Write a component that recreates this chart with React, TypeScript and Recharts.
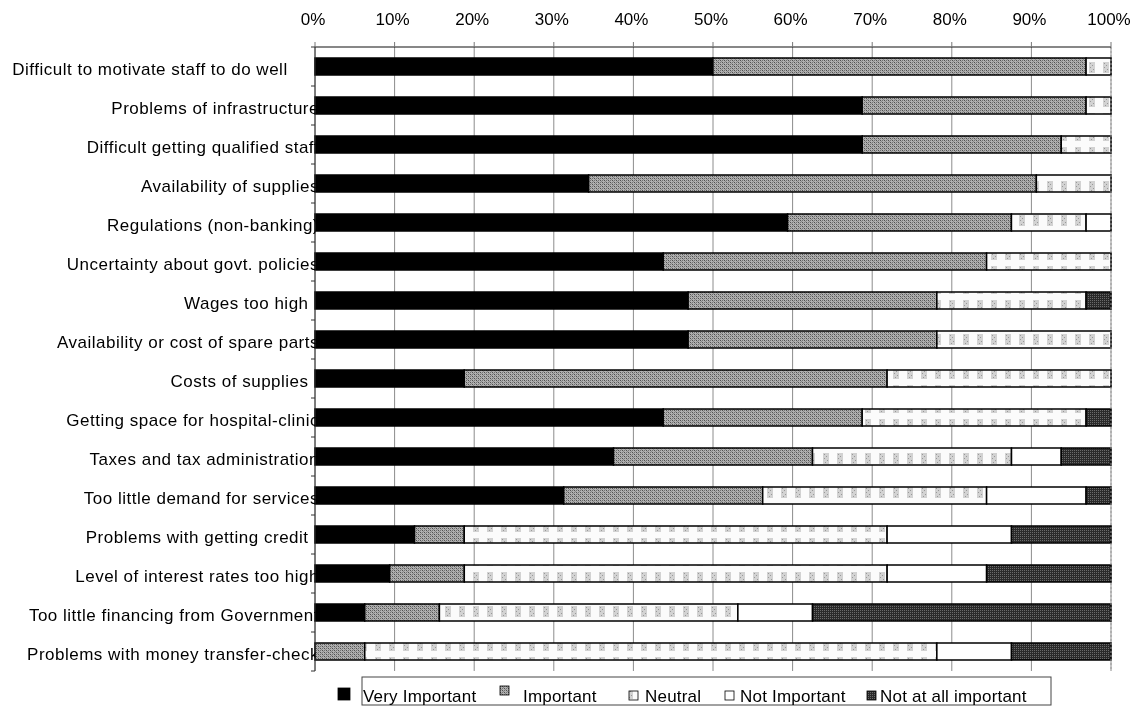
import React from "react";
import { BarChart, Bar, XAxis, YAxis, CartesianGrid, Legend, ReferenceLine } from "recharts";

const categories = [
  "Difficult to motivate staff to do well      ",
  "Problems of infrastructure",
  "Difficult getting qualified staff",
  "Availability of supplies",
  "Regulations (non-banking)",
  "Uncertainty about govt. policies",
  "Wages too high  ",
  "Availability or cost of spare parts",
  "Costs of supplies  ",
  "Getting space for hospital-clinic",
  "Taxes and tax administration",
  "Too little demand for services",
  "Problems with getting credit  ",
  "Level of interest rates too high",
  "Too little financing from Government",
  "Problems with money transfer-check",
];

const seriesNames = ["Very Important", "Important", "Neutral", "Not Important", "Not at all important"];

// percentages
const veryImportant = [50, 68.75, 68.75, 34.38, 59.38, 43.75, 46.88, 46.88, 18.75, 43.75, 37.5, 31.25, 12.5, 9.38, 6.25, 0];
const important = [46.88, 28.13, 25, 56.25, 28.13, 40.63, 31.25, 31.25, 53.13, 25, 25, 25, 6.25, 9.38, 9.38, 6.25];
const neutral = [3.13, 3.13, 6.25, 9.38, 9.38, 15.63, 18.75, 21.88, 28.13, 28.13, 25, 28.13, 53.13, 53.13, 37.5, 71.88];
const notImportant = [0, 0, 0, 0, 3.13, 0, 0, 0, 0, 0, 6.25, 12.5, 15.63, 12.5, 9.38, 9.38];
const notAtAll = [0, 0, 0, 0, 0, 0, 3.13, 0, 0, 3.13, 6.25, 3.13, 12.5, 15.63, 37.5, 12.5];

const xTicks = [0, 0.1, 0.2, 0.3, 0.4, 0.5, 0.6, 0.7, 0.8, 0.9, 1];

const keys = ["vi", "imp", "neu", "ni", "nai"];
const fills = ["#000000", "url(#pImp)", "url(#pNeu)", "#ffffff", "url(#pNai)"];

const data = categories.map((name, i) => ({
  name,
  vi: veryImportant[i],
  imp: important[i],
  neu: neutral[i],
  ni: notImportant[i],
  nai: notAtAll[i],
}));

const FONT = "'Liberation Sans', Arial, Helvetica, sans-serif";
const W = 1124;
const H = 699;
const MARGIN = { top: 0, right: 21, bottom: 36, left: 0 };
const XAXIS_H = 39;
const YAXIS_W = 307;
const BAND = (H - MARGIN.top - MARGIN.bottom - XAXIS_H) / categories.length;

const YTick = (props: any) => {
  const { x, y, payload, index } = props;
  const id = `yclip${index}`;
  const half = BAND / 2;
  return (
    <g>
      <clipPath id={id}>
        <rect x={0} y={y - half} width={x + 0.5} height={BAND} />
      </clipPath>
      <text
        x={x + 4}
        y={y + 8.5}
        textAnchor="end"
        fontSize={17}
        letterSpacing={0.5}
        fontFamily={FONT}
        fill="#000"
        clipPath={`url(#${id})`}
        style={{ whiteSpace: "pre" }}
      >
        {payload.value}
      </text>
      <line x1={x - 4} x2={x} y1={y - half} y2={y - half} stroke="#333" />
      {index === categories.length - 1 ? (
        <line x1={x - 4} x2={x} y1={y + half} y2={y + half} stroke="#333" />
      ) : null}
    </g>
  );
};

const XTick = (props: any) => {
  const { x, y, payload } = props;
  return (
    <text x={x - 2} y={y} textAnchor="middle" fontSize={17} fontFamily={FONT} fill="#000">
      {`${Math.round(payload.value * 100)}%`}
    </text>
  );
};

const legendItems = [
  { mx: 330, my: 20, ms: 12, tx: 355 },
  { mx: 492, my: 18, ms: 9, tx: 515 },
  { mx: 621, my: 23, ms: 9, tx: 637 },
  { mx: 717, my: 23, ms: 9, tx: 732 },
  { mx: 859, my: 23, ms: 9, tx: 872 },
];

const renderLegend = () => (
  <svg width={W} height={39} style={{ display: "block" }}>
    <rect x={354} y={9} width={689} height={28} fill="#fff" stroke="#444" strokeWidth={1} />
    {seriesNames.map((n, i) => {
      const it = legendItems[i];
      return (
        <g key={n}>
          <rect x={it.mx} y={it.my} width={it.ms} height={it.ms} fill={fills[i]} stroke="#000" strokeWidth={0.8} />
          <text x={it.tx} y={34} fontSize={17} letterSpacing={0.2} fontFamily={FONT} fill="#000">
            {n}
          </text>
        </g>
      );
    })}
  </svg>
);

export default function App() {
  return (
    <div style={{ position: "fixed", left: 8, top: 8, width: W, height: H }}>
      <svg width={0} height={0} style={{ position: "absolute" }}>
        <defs>
          <pattern id="pImp" patternUnits="userSpaceOnUse" width={4} height={4}>
            <rect width={4} height={4} fill="#b0b0b0" />
            <rect x={0} y={0} width={1} height={1} fill="#505050" />
            <rect x={2} y={2} width={1} height={1} fill="#505050" />
            <rect x={2} y={0} width={1} height={1} fill="#727272" />
            <rect x={0} y={2} width={1} height={1} fill="#727272" />
            <rect x={1} y={1} width={1} height={1} fill="#888" />
            <rect x={3} y={3} width={1} height={1} fill="#888" />
          </pattern>
          <pattern id="pNeu" patternUnits="userSpaceOnUse" width={14} height={17}>
            <rect width={14} height={17} fill="#fbfbfb" />
            <rect x={3} y={3} width={6} height={11} fill="#d2d2d2" />
            <rect x={4} y={4} width={1} height={1} fill="#999" />
            <rect x={6} y={6} width={1} height={1} fill="#999" />
            <rect x={4} y={8} width={1} height={1} fill="#999" />
            <rect x={7} y={10} width={1} height={1} fill="#999" />
            <rect x={5} y={12} width={1} height={1} fill="#999" />
          </pattern>
          <pattern id="pNai" patternUnits="userSpaceOnUse" width={2} height={2}>
            <rect width={2} height={2} fill="#2a2a2a" />
            <rect x={0} y={0} width={1} height={1} fill="#6a6a6a" />
          </pattern>
        </defs>
      </svg>
      <BarChart
        width={W}
        height={H}
        data={data}
        layout="vertical"
        stackOffset="expand"
        margin={MARGIN}
        barSize={17}
      >
        <CartesianGrid vertical={true} horizontal={false} stroke="#8c8c8c" strokeWidth={1} />
        <XAxis
          type="number"
          orientation="top"
          domain={[0, 1]}
          ticks={xTicks}
          height={XAXIS_H}
          tick={<XTick />}
          axisLine={{ stroke: "#111", strokeWidth: 1.2 }}
          tickLine={{ stroke: "#777" }}
          tickSize={5}
          tickMargin={17}
          interval={0}
        />
        <YAxis
          type="category"
          dataKey="name"
          width={YAXIS_W}
          axisLine={{ stroke: "#333", strokeWidth: 1 }}
          tickLine={false}
          tickSize={0}
          tickMargin={0}
          interval={0}
          tick={<YTick />}
        />
        <ReferenceLine x={1} stroke="#999" strokeDasharray="2 2" />
        {keys.map((k, i) => (
          <Bar
            key={k}
            dataKey={k}
            name={seriesNames[i]}
            stackId="a"
            fill={fills[i]}
            stroke="#000"
            strokeWidth={1.5}
            isAnimationActive={false}
          />
        ))}
        <Legend
          layout="horizontal"
          verticalAlign="middle"
          align="center"
          content={renderLegend}
          wrapperStyle={{ position: "absolute", left: 0, top: 660, width: W, height: 39 }}
        />
      </BarChart>
    </div>
  );
}
